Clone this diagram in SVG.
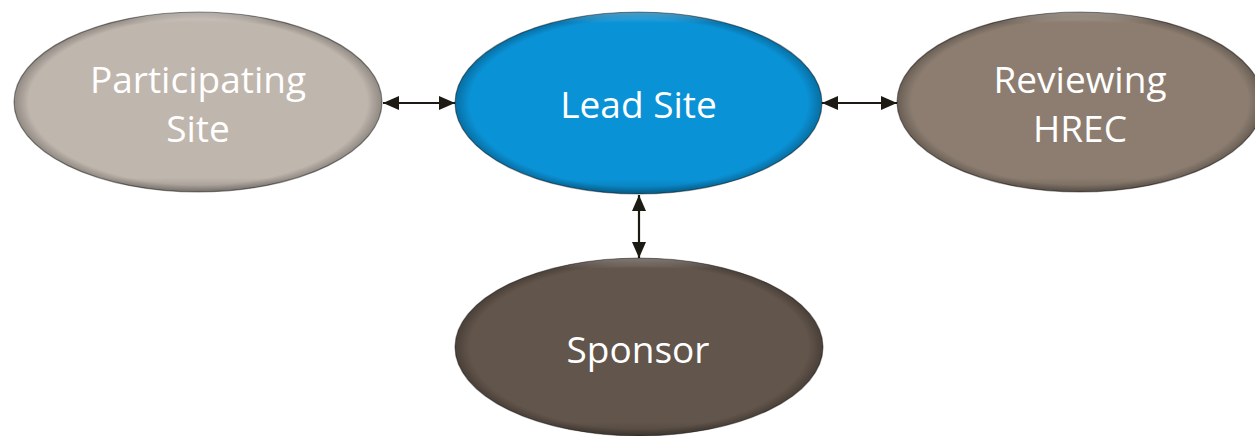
<svg xmlns="http://www.w3.org/2000/svg" width="1255" height="436" viewBox="0 0 1255 436">
<style>
.lbl{font-family:"Open Sans","Noto Sans",sans-serif;font-size:37px;fill:#ffffff;text-anchor:middle}
.conn{stroke:#1c1a12;stroke-width:2.2;fill:none}
.rim{fill:none;stroke:#000;stroke-opacity:0.4;stroke-width:1.2}
</style>
<defs>
<marker id="ah" viewBox="0 0 16 14" refX="16" refY="7" markerWidth="16" markerHeight="14" markerUnits="userSpaceOnUse" orient="auto-start-reverse">
<path d="M0,0 L16,7 L0,14 z" fill="#1c1a12"/>
</marker>
<radialGradient id="shade" cx="0.5" cy="0.5" r="0.5">
<stop offset="0.92" stop-color="#000" stop-opacity="0"/>
<stop offset="1" stop-color="#000" stop-opacity="0.25"/>
</radialGradient>
<linearGradient id="hl" x1="0" y1="0" x2="0" y2="1">
<stop offset="0" stop-color="#fff" stop-opacity="0.3"/>
<stop offset="0.06" stop-color="#fff" stop-opacity="0"/>
<stop offset="0.92" stop-color="#000" stop-opacity="0"/>
<stop offset="1" stop-color="#000" stop-opacity="0.2"/>
</linearGradient>
</defs>
<rect width="1255" height="436" fill="#ffffff"/>
<g id="connectors">
<line class="conn" x1="383" y1="103" x2="455" y2="103" marker-start="url(#ah)" marker-end="url(#ah)"/>
<line class="conn" x1="822" y1="103" x2="897" y2="103" marker-start="url(#ah)" marker-end="url(#ah)"/>
<line class="conn" x1="639" y1="195" x2="639" y2="258" marker-start="url(#ah)" marker-end="url(#ah)"/>
</g>
<g id="participating-site">
<ellipse cx="198" cy="102" rx="184" ry="90" fill="#bfb6ad"/>
<ellipse cx="198" cy="102" rx="184" ry="90" fill="url(#shade)"/>
<ellipse cx="198" cy="102" rx="184" ry="90" fill="url(#hl)"/>
<ellipse class="rim" cx="198" cy="102" rx="184" ry="90"/>
<text class="lbl" x="198" y="93">Participating</text>
<text class="lbl" x="198" y="142">Site</text>
</g>
<g id="lead-site">
<ellipse cx="638.5" cy="103" rx="183.5" ry="91" fill="#0a92d6"/>
<ellipse cx="638.5" cy="103" rx="183.5" ry="91" fill="url(#shade)"/>
<ellipse cx="638.5" cy="103" rx="183.5" ry="91" fill="url(#hl)"/>
<ellipse class="rim" cx="638.5" cy="103" rx="183.5" ry="91"/>
<text class="lbl" x="638.5" y="118">Lead Site</text>
</g>
<g id="reviewing-hrec">
<ellipse cx="1080" cy="102" rx="183" ry="90" fill="#8c7d70"/>
<ellipse cx="1080" cy="102" rx="183" ry="90" fill="url(#shade)"/>
<ellipse cx="1080" cy="102" rx="183" ry="90" fill="url(#hl)"/>
<ellipse class="rim" cx="1080" cy="102" rx="183" ry="90"/>
<text class="lbl" x="1080" y="93">Reviewing</text>
<text class="lbl" x="1080" y="142">HREC</text>
</g>
<g id="sponsor">
<ellipse cx="639" cy="347" rx="184" ry="89" fill="#62554b"/>
<ellipse cx="639" cy="347" rx="184" ry="89" fill="url(#shade)"/>
<ellipse cx="639" cy="347" rx="184" ry="89" fill="url(#hl)"/>
<ellipse class="rim" cx="639" cy="347" rx="184" ry="89"/>
<text class="lbl" x="638" y="363">Sponsor</text>
</g>
</svg>
